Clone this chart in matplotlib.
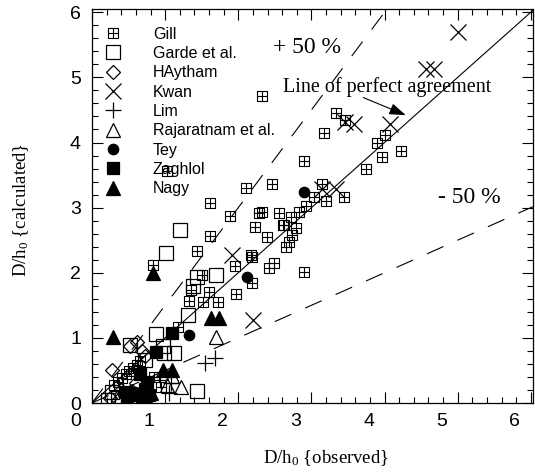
import numpy as np
import matplotlib
matplotlib.use("Agg")
import matplotlib.pyplot as plt
from matplotlib.path import Path
from matplotlib.transforms import ScaledTranslation
from matplotlib.ticker import MultipleLocator

plt.rcParams['font.family'] = ['Liberation Sans', 'DejaVu Sans']
plt.rcParams['mathtext.fontset'] = 'custom'
plt.rcParams['mathtext.rm'] = 'Liberation Serif'
plt.rcParams['mathtext.it'] = 'Liberation Serif'
plt.rcParams['lines.scale_dashes'] = False

# ---- data: (observed, calculated) D/h0 per study ----
gill_obs = [2.33, 3.33, 3.46, 3.17, 2.90, 2.46, 3.14, 4.00, 3.90, 4.22, 3.96, 3.74,
            3.20, 3.44, 3.03, 2.93, 2.83, 2.72, 2.56, 2.61, 2.79, 2.73, 2.39, 2.33,
            2.65, 2.69, 2.42, 2.49, 2.90, 1.02, 2.11, 1.61, 1.89, 2.29, 2.23, 2.63,
            1.61, 1.43, 2.18, 1.96, 0.83, 1.51, 2.19, 1.36, 1.60, 1.97, 2.19, 1.33,
            1.52, 1.72, 1.17, 0.30, 0.36, 0.41, 0.46, 0.51, 0.56, 0.61, 0.66,
            0.85, 0.95, 0.70]
gill_calc = [4.72, 4.46, 4.34, 4.14, 3.71, 3.37, 3.37, 4.12, 3.99, 3.87, 3.77, 3.59,
             3.10, 3.17, 3.16, 3.02, 2.93, 2.85, 2.91, 2.74, 2.68, 2.58, 2.55, 2.93,
             2.39, 2.47, 2.07, 2.15, 2.01, 3.57, 3.30, 3.07, 2.87, 2.91, 2.70, 2.73,
             2.56, 2.33, 2.27, 2.10, 2.12, 1.96, 1.84, 1.73, 1.70, 1.67, 2.24, 1.56,
             1.55, 1.55, 1.17, 0.27, 0.33, 0.38, 0.44, 0.49, 0.54, 0.59, 0.64,
             0.40, 0.25, 0.10]

garde_obs = [1.21, 1.01, 1.44, 1.69, 1.38, 1.31, 0.87, 0.52, 0.97, 0.72, 0.99, 1.12,
             1.44, 0.27, 0.22, 0.35]
garde_calc = [2.66, 2.30, 1.93, 1.96, 1.80, 1.35, 1.06, 0.89, 0.88, 0.66, 0.77, 0.77,
              0.19, 0.17, 0.04, 0.08]

haytham_obs = [0.27, 0.52, 0.62, 0.68, 0.72, 0.25, 0.45, 0.55, 0.35, 0.40, 0.60]
haytham_calc = [0.50, 0.88, 0.93, 0.80, 0.72, 0.08, 0.12, 0.18, 0.05, 0.20, 0.30]

kwan_obs = [5.00, 4.57, 4.67, 3.46, 3.58, 4.08, 3.14, 3.33, 1.92, 2.20]
kwan_calc = [5.69, 5.13, 5.13, 4.31, 4.29, 4.29, 3.28, 3.28, 2.27, 1.27]

lim_obs = [1.55, 1.68, 1.05, 0.93, 1.08]
lim_calc = [0.61, 0.69, 0.15, 0.35, 0.30]

raja_obs = [1.70, 1.22, 1.02, 1.09]
raja_calc = [1.02, 0.24, 0.27, 0.42]

tey_obs = [1.33, 2.90, 2.12, 0.42, 0.65]
tey_calc = [1.04, 3.24, 1.93, 0.15, 0.08]

zaghlol_obs = [1.09, 0.88, 0.65, 0.75, 0.72, 0.45, 0.53, 0.78, 0.60, 0.48]
zaghlol_calc = [1.07, 0.78, 0.45, 0.32, 0.22, 0.17, 0.15, 0.12, 0.12, 0.08]

nagy_obs = [0.83, 0.29, 0.97, 1.10, 1.63, 1.74, 0.80, 0.72]
nagy_calc = [2.00, 1.01, 0.51, 0.51, 1.30, 1.30, 0.15, 0.10]

tick_values = [0, 1, 2, 3, 4, 5, 6]

# square with an inner cross, used for the Gill points
grid_sq = Path(
    [(-1, -1), (1, -1), (1, 1), (-1, 1), (-1, -1),
     (0, -1), (0, 1), (-1, 0), (1, 0)],
    [Path.MOVETO, Path.LINETO, Path.LINETO, Path.LINETO, Path.CLOSEPOLY,
     Path.MOVETO, Path.LINETO, Path.MOVETO, Path.LINETO])

fig = plt.figure(figsize=(5.35, 4.72), dpi=100)
ax = fig.add_axes([92 / 535, 69 / 472, 441 / 535, 394 / 472])

lim = 6.03
ax.set_xlim(0, lim)
ax.set_ylim(0, 6.05)

# reference lines
xs = np.array([0, lim])
ax.plot(xs, xs, color='black', lw=0.8, zorder=1)
ax.plot(xs, 1.5 * xs, color='black', lw=0.8, ls=(0, (13, 11)), zorder=1)
ax.plot(xs, 0.5 * xs, color='black', lw=0.8, ls=(0, (13, 11)), zorder=1)

mk = dict(ls='none', color='black', mew=0.9)
ax.plot(gill_obs, gill_calc, marker=grid_sq, ms=6.5, mfc='none', mew=0.8,
        ls='none', color='black', label='Gill')
ax.plot(garde_obs, garde_calc, marker='s', ms=10, mfc='none', label='Garde et al.', **mk)
ax.plot(haytham_obs, haytham_calc, marker='D', ms=7, mfc='none', label='HAytham', **mk)
ax.plot(kwan_obs, kwan_calc, marker='x', ms=11, label='Kwan', **mk)
ax.plot(lim_obs, lim_calc, marker='+', ms=12, label='Lim', **mk)
ax.plot(raja_obs, raja_calc, marker='^', ms=10, mfc='none', label='Rajaratnam et al.', **mk)
ax.plot(tey_obs, tey_calc, marker='o', ms=7.5, label='Tey', **mk)
ax.plot(zaghlol_obs, zaghlol_calc, marker='s', ms=8.5, label='Zaghlol', **mk)
ax.plot(nagy_obs, nagy_calc, marker='^', ms=10, label='Nagy', **mk)

leg = ax.legend(loc='upper left', bbox_to_anchor=(0.026, 0.955), frameon=False,
                fontsize=11.5, handlelength=1.2, handletextpad=1.9,
                labelspacing=0.27, borderpad=0, borderaxespad=0, numpoints=1)

# ticks
ax.xaxis.set_minor_locator(MultipleLocator(0.2))
ax.yaxis.set_minor_locator(MultipleLocator(0.2))
ax.set_xticks(tick_values)
ax.set_yticks(tick_values)
ax.tick_params(which='both', direction='in', top=True, right=True, labelsize=14,
               width=0.8, color='black')
ax.tick_params(which='major', length=8)
ax.tick_params(which='minor', length=4.5)
ax.tick_params(axis='x', pad=7)
ax.tick_params(axis='y', pad=8)
shift = ScaledTranslation(-0.16, 0, fig.dpi_scale_trans)
for lab in ax.get_xticklabels():
    lab.set_transform(lab.get_transform() + shift)
for sp in ax.spines.values():
    sp.set_linewidth(0.9)

serif = ['Liberation Serif', 'DejaVu Serif']
ax.set_xlabel(r'D/h$_{0}$ {observed}', family=serif, fontsize=13.5, labelpad=14)
ax.xaxis.set_label_coords(0.53, -0.115)
ax.set_ylabel(r'D/h$_{0}$ {calculated}', family=serif, fontsize=13.5)
ax.yaxis.set_label_coords(-0.138, 0.49)

ax.text(2.94, 5.46, '+ 50 %', family=serif, fontsize=17, ha='center', va='center')
ax.text(5.16, 3.16, '- 50 %', family=serif, fontsize=17, ha='center', va='center')
ax.text(4.03, 4.85, 'Line of perfect agreement', family=serif, fontsize=14.5,
        ha='center', va='center')
ax.annotate('', xy=(4.29, 4.42), xytext=(3.71, 4.69),
            arrowprops=dict(arrowstyle='-|>,head_length=1.0,head_width=0.35',
                            color='black', lw=0.8, shrinkA=0, shrinkB=0))

fig.savefig('out.png', dpi=100)
